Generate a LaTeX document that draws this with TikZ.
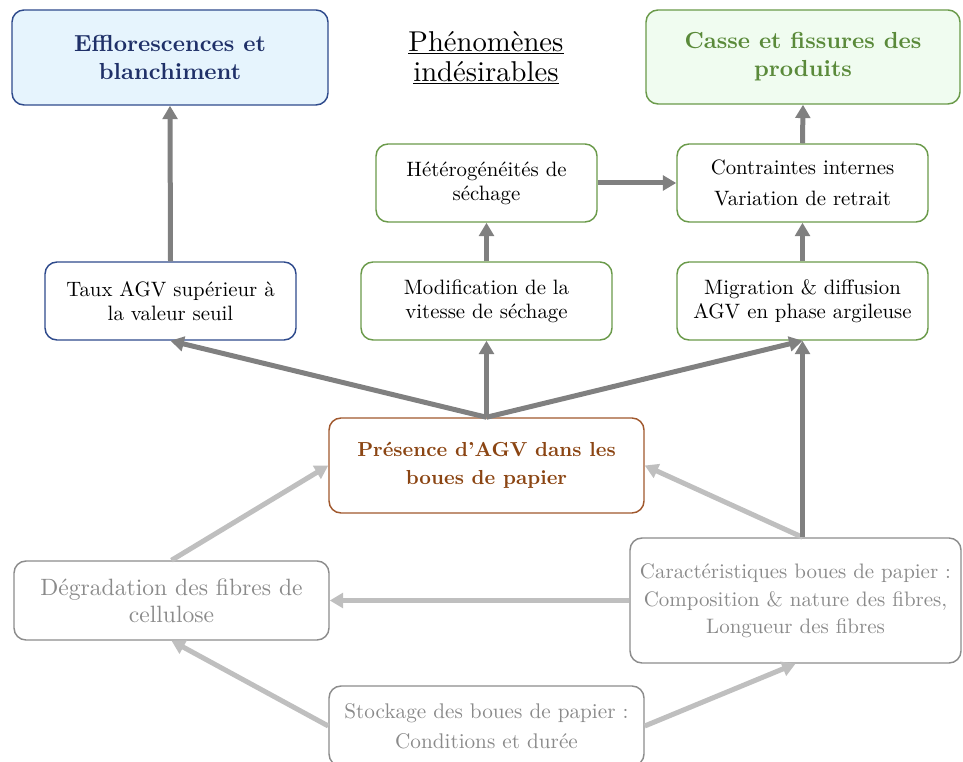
\documentclass[tikz,border=0pt]{standalone}
\usepackage{fontspec}
\setmainfont{lmroman10-regular.otf}[BoldFont=lmroman10-bold.otf, ItalicFont=lmroman10-italic.otf]
\usetikzlibrary{arrows.meta}
\definecolor{navy}{HTML}{1F3068}
\definecolor{navyline}{HTML}{2E4A8C}
\definecolor{bluefill}{HTML}{E6F4FD}
\definecolor{greenline}{HTML}{6A9A4A}
\definecolor{greentext}{HTML}{5A8A3A}
\definecolor{greenfill}{HTML}{F0FCF0}
\definecolor{brownline}{HTML}{A0582D}
\definecolor{browntext}{HTML}{8B4513}
\definecolor{graytext}{HTML}{8A8A8A}
\definecolor{grayline}{HTML}{8C8C8C}
\definecolor{darkarrow}{HTML}{808080}
\definecolor{lightarrow}{HTML}{BFBFBF}
\tikzset{
  box/.style={draw, line width=1.1pt, rounded corners=9pt, align=center, inner sep=0pt},
  titlebox/.style={box, font=\fontsize{17.4}{21}\selectfont\bfseries},
  smallbox/.style={box, font=\fontsize{15.6}{18}\selectfont, minimum height=58.5pt},
  graybox/.style={box, draw=grayline, text=graytext, font=\fontsize{15.7}{20}\selectfont},
  darrow/.style={draw=darkarrow, line width=3.75pt, -{Triangle[length=10pt,width=11pt]}},
  larrow/.style={draw=lightarrow, line width=3.75pt, -{Triangle[length=10pt,width=11pt]}},
}
\begin{document}
\begin{tikzpicture}[x=0.75pt,y=-0.75pt]
\useasboundingbox (0,0) rectangle (963,762);
% top row
\node[titlebox, draw=navyline, fill=bluefill, text=navy, minimum width=237pt, minimum height=71.25pt] (eff) at (170,57.5) {Efflorescences et\\blanchiment};
\node[align=center, font=\fontsize{21.5}{22.5}\selectfont] (phen) at (486,58) {\underline{Phénomènes}\\\underline{indésirables}};
\node[titlebox, draw=greenline, fill=greenfill, text=greentext, minimum width=235.5pt, minimum height=70.5pt] (casse) at (803,57) {Casse et fissures des\\produits};
% second row
\node[smallbox, draw=greenline, minimum width=165.75pt] (het) at (486.5,183) {Hétérogénéités de\\séchage};
\node[smallbox, draw=greenline, minimum width=188.25pt] (contr) at (802.5,183) {Contraintes internes\\[5pt]Variation de retrait};
% third row
\node[smallbox, draw=navyline, minimum width=188.25pt] (taux) at (170.5,301) {Taux AGV supérieur à\\la valeur seuil};
\node[smallbox, draw=greenline, minimum width=188.25pt] (modif) at (486.5,301) {Modification de la\\vitesse de séchage};
\node[smallbox, draw=greenline, minimum width=188.25pt] (migr) at (802.5,301) {Migration \& diffusion\\AGV en phase argileuse};
% centre
\node[titlebox, font=\fontsize{15.2}{21}\selectfont\bfseries, draw=brownline, text=browntext, minimum width=236.25pt, minimum height=71.25pt] (pres) at (486.5,465.5) {Présence d'AGV dans les\\boues de papier};
% bottom
\node[graybox, font=\fontsize{17.7}{20}\selectfont, minimum width=236.25pt, minimum height=59.25pt] (degr) at (171.5,600.5) {Dégradation des fibres de\\cellulose};
\node[graybox, minimum width=248.25pt, minimum height=93.75pt] (car) at (795.5,600.5) {Caractéristiques boues de papier :\\[1pt]Composition \& nature des fibres,\\Longueur des fibres};
\node[graybox, minimum width=236.25pt, minimum height=60pt, font=\fontsize{15.9}{20}\selectfont] (stock) at (486.5,726) {Stockage des boues de papier :\\[2.5pt]Conditions et durée};
% light arrows
\draw[larrow] (degr.north) -- (pres.west);
\draw[larrow] (migr.south |- car.north) -- (pres.east);
\draw[larrow] (car.west) -- (degr.east);
\draw[larrow] (stock.west) -- (degr.south);
\draw[larrow] (stock.east) -- (car.south);
% dark arrows
\draw[darrow] (migr.south |- car.north) -- (migr.south);
\draw[darrow] (pres.north) -- (taux.south);
\draw[darrow] (pres.north) -- (modif.south);
\draw[darrow] (pres.north) -- (migr.south);
\draw[darrow] (modif.north) -- (het.south);
\draw[darrow] (migr.north) -- (contr.south);
\draw[darrow] (contr.north) -- (casse.south);
\draw[darrow] (taux.north) -- (eff.south);
\draw[darrow] (het.east) -- (contr.west);
\end{tikzpicture}
\end{document}
